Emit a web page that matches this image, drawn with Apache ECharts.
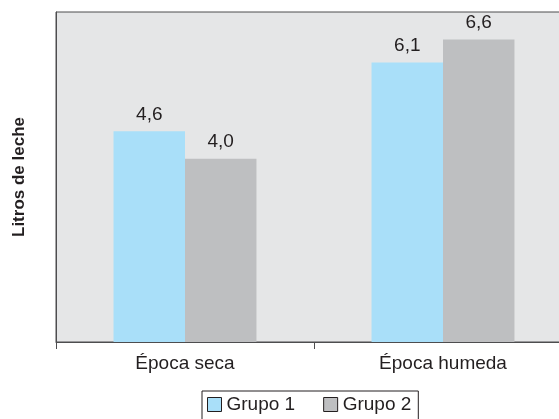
<!DOCTYPE html>
<html>
<head>
<meta charset="utf-8">
<script src="https://cdn.jsdelivr.net/npm/echarts@6/dist/echarts.min.js"></script>
<style>
  html, body { margin: 0; padding: 0; background: #ffffff; }
  #chart { width: 559px; height: 419px; }
</style>
</head>
<body>
<div id="chart"></div>
<script>
// Milk yield per season and group
const categories = ['Época seca', 'Época humeda'];
const grupo1 = [4.6, 6.1];
const grupo2 = [4.0, 6.6];
const seriesNames = ['Grupo 1', 'Grupo 2'];

const FONT = '"Liberation Sans", Arial, Helvetica, sans-serif';
const fmt = p => p.value.toFixed(1).replace('.', ',');

const chart = echarts.init(document.getElementById('chart'), null, { renderer: 'canvas' });

const barLabel = {
  show: true,
  position: 'top',
  distance: 7,
  color: '#231f20',
  fontSize: 19,
  fontFamily: FONT,
  formatter: fmt
};

chart.setOption({
  animation: false,
  backgroundColor: '#ffffff',
  grid: {
    left: 56,
    top: 12,
    width: 516,
    bottom: 77,
    containLabel: false,
    outerBoundsMode: 'none',
    show: true,
    backgroundColor: '#e5e6e7',
    borderColor: '#4d4d4f',
    borderWidth: 1
  },
  legend: {
    data: [
      { name: seriesNames[0], itemStyle: { color: '#a9dff9', borderColor: '#231f20', borderWidth: 1 } },
      { name: seriesNames[1], itemStyle: { color: '#bebfc1', borderColor: '#231f20', borderWidth: 1 } }
    ],
    top: 391,
    left: 202,
    itemWidth: 14,
    itemHeight: 14,
    itemGap: 28,
    padding: [4, 7, 8, 5],
    borderColor: '#231f20',
    borderWidth: 1,
    icon: 'rect',
    textStyle: { fontSize: 19, color: '#231f20', fontFamily: FONT }
  },
  xAxis: {
    type: 'category',
    data: categories,
    axisLine: { lineStyle: { color: '#4d4d4f', width: 1 } },
    axisTick: { show: true, length: 7, lineStyle: { color: '#4d4d4f' } },
    axisLabel: { fontSize: 19, color: '#231f20', fontFamily: FONT, margin: 12 }
  },
  yAxis: {
    type: 'value',
    min: 0,
    max: 7.2,
    name: 'Litros de leche',
    nameLocation: 'middle',
    nameGap: 28,
    nameTextStyle: { fontSize: 17, fontWeight: 'bold', color: '#231f20', fontFamily: FONT },
    axisLine: { show: true, lineStyle: { color: '#4d4d4f', width: 1 } },
    axisTick: { show: false },
    axisLabel: { show: false },
    splitLine: { show: false }
  },
  series: [
    {
      name: seriesNames[0],
      type: 'bar',
      data: grupo1,
      barGap: '0%',
      barCategoryGap: '44.6%',
      itemStyle: { color: '#a9dff9' },
      label: barLabel
    },
    {
      name: seriesNames[1],
      type: 'bar',
      data: grupo2,
      itemStyle: { color: '#bebfc1' },
      label: barLabel
    }
  ]
});
</script>
</body>
</html>
